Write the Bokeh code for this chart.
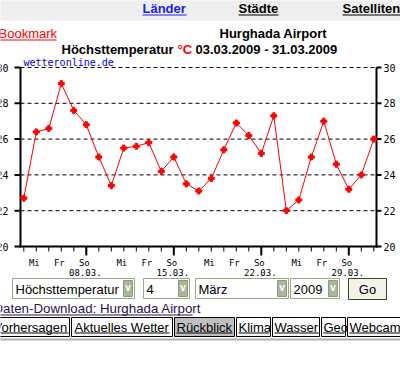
from bokeh.plotting import figure
from bokeh.models import Range1d, Label, BoxAnnotation
from bokeh.core.properties import value
from bokeh.embed import file_html
from bokeh.resources import INLINE

# ---------------- data ----------------
days = list(range(3, 32))  # 03.03. .. 31.03.2009
tmax = [22.7, 26.4, 26.6, 29.1, 27.6, 26.8, 25.0, 23.4, 25.5, 25.6,
        25.8, 24.2, 25.0, 23.5, 23.1, 23.8, 25.4, 26.9, 26.2, 25.2,
        27.3, 22.0, 22.6, 25.0, 27.0, 24.6, 23.2, 24.0, 26.0]
y_ticks = [20, 22, 24, 26, 28, 30]
grid_ticks = [22, 24, 26, 28, 30]
weekday_days = [4, 6, 8, 11, 13, 15, 18, 20, 22, 25, 27, 29]
weekday_labels = ["Mi", "Fr", "So"] * 4
sunday_days = [8, 15, 22, 29]
sunday_labels = ["08.03.", "15.03.", "22.03.", "29.03."]

title_station = "Hurghada Airport"
title_param = "Höchsttemperatur"
title_unit = "°C"
title_period = "03.03.2009 - 31.03.2009"

# ---------------- layout ----------------
W, H = 400, 380
FL, FR, FT, FB = 20, 376, 67, 246      # chart area on the page (px)
X0, X1 = 2.736, 31.216                  # day range shown in the chart area
Y0, Y1 = 20, 30                         # temperature range
PXD = (FR - FL) / (X1 - X0)             # px per day
PYD = (FB - FT) / (Y1 - Y0)             # px per degree
SANS = "Liberation Sans"
MONO = "DejaVu Sans Mono"

p = figure(width=W, height=H, output_backend="svg", toolbar_location=None,
           x_range=Range1d(X0 - FL / PXD, X1 + (W - FR) / PXD),
           y_range=Range1d(Y0 - (H - FB) / PYD, Y1 + FT / PYD),
           x_axis_location=None, y_axis_location=None,
           min_border=0, min_border_left=0, min_border_right=0,
           min_border_top=0, min_border_bottom=0)
p.outline_line_color = None
p.background_fill_color = "white"
p.border_fill_color = "white"
for g in p.grid:
    g.visible = False


def dx(px):
    return px / PXD


def dy(px):
    return px / PYD


# grid (dashed)
p.segment(x0=[X0] * len(grid_ticks), x1=[X1] * len(grid_ticks), y0=grid_ticks,
          y1=grid_ticks, line_color="black", line_width=1, line_dash="4 3")

# axes lines
p.segment(x0=[X0, X1, X0 - dx(1)], x1=[X0, X1, X1 + dx(1)],
          y0=[Y0 - dy(1), Y0 - dy(1), Y0], y1=[Y1, Y1, Y0],
          line_color="black", line_width=2)
# y ticks left / right
n = len(y_ticks)
p.segment(x0=[X0] * n, x1=[X0 - dx(6)] * n, y0=y_ticks, y1=y_ticks,
          line_color="black", line_width=2)
p.segment(x0=[X1] * n, x1=[X1 + dx(5)] * n, y0=y_ticks, y1=y_ticks,
          line_color="black", line_width=2)
# x ticks
p.segment(x0=days, x1=days, y0=[Y0] * len(days), y1=[Y0 - dy(5)] * len(days),
          line_color="black", line_width=1)
p.segment(x0=sunday_days, x1=sunday_days, y0=[Y0] * 4, y1=[Y0 - dy(9)] * 4,
          line_color="black", line_width=2)

# tick labels
p.text(x=[X1 + dx(7)] * n, y=y_ticks, text=[str(t) for t in y_ticks],
       text_font=value(MONO), text_font_size="10px", text_color="black",
       text_align="left", text_baseline="middle")
p.text(x=[X0 - dx(12)] * n, y=y_ticks, text=[str(t) for t in y_ticks],
       text_font=value(MONO), text_font_size="10px", text_color="black",
       text_align="right", text_baseline="middle")
p.text(x=weekday_days, y=[Y0 - dy(16)] * len(weekday_days), text=weekday_labels,
       x_offset=-2, text_font=value(MONO), text_font_size="9px",
       text_color="black", text_align="center", text_baseline="middle")
p.text(x=sunday_days, y=[Y0 - dy(26)] * 4, text=sunday_labels,
       x_offset=-1, text_font=value(MONO), text_font_size="9px",
       text_color="black", text_align="center", text_baseline="middle")

# data
p.line(days, tmax, line_color="red", line_width=1)
p.scatter(days, tmax, marker="plus", size=6, fill_color="red", line_color="red")


# ---------- page elements (top-left page pixels -> screen units) ----------
TXT_SHIFT = 4   # Label baseline correction (px)


def sx(x):
    return x


def sy(y):
    return H - y


def txt(x, y, text, size="13px", color="black", style="normal", font=SANS,
        align="left", baseline="alphabetic"):
    shift = TXT_SHIFT if baseline == "alphabetic" else 0
    p.add_layout(Label(x=sx(x), y=sy(y) + shift, x_units="screen", y_units="screen",
                       text=text, text_font=font, text_font_size=size,
                       text_color=color, text_font_style=style,
                       text_align=align, text_baseline=baseline))


def box(x0, y0, x1, y1, fill="white", line=None, lw=1):
    p.add_layout(BoxAnnotation(left=sx(x0), right=sx(x1), top=sy(y0), bottom=sy(y1),
                               left_units="screen", right_units="screen",
                               top_units="screen", bottom_units="screen",
                               fill_color=fill, fill_alpha=1 if fill else 0,
                               line_color=line, line_width=lw, line_alpha=1))


def uline(x0, x1, y, color="black"):
    box(x0, y, x1, y + 1, fill=color)


# top navigation bar
box(-5, -5, 405, 20, fill="#eeeeee")
txt(142, 12, "Länder", color="#2020ee", style="bold")
uline(142, 186, 14, "#2020ee")
txt(238, 12, "Städte", style="bold")
uline(238, 278, 14)
txt(342, 12, "Satelliten", style="bold")
uline(342, 405, 14)

# header
txt(-2, 37, "Bookmark", color="red")
uline(-2, 56, 39, "red")
txt(219, 37, title_station, style="bold")
txt(61, 53, title_param, style="bold")
txt(177, 53, title_unit, style="bold", color="red")
txt(195, 53, title_period, style="bold")

# source tag
txt(23, 62, "wetteronline.de", size="10px", color="blue", font=MONO, baseline="middle")

# form controls
BORDER = "#9aa986"
ARROW = "#a9b69b"
selects = [(12, 134, "Höchsttemperatur"), (143, 189, "4"),
           (195, 288, "März"), (290, 339, "2009")]
for x0, x1, t in selects:
    box(x0, 278, x1, 298, fill="white", line=BORDER)
    box(x1 - 11, 280, x1 - 2, 296, fill=ARROW, line="#8c9a7c")
    txt(x1 - 6.5, 291, "v", size="10px", color="white", style="bold", align="center")
    txt(x0 + 3, 293, t)
box(348, 278, 386, 299, fill="#f4f3ea", line="#2e4d24")
txt(367, 293, "Go", align="center")

LINK = "#2a1058"
txt(-7, 312, "Daten-Download: Hurghada Airport", size="13.3px", color=LINK)
uline(-7, 192, 314, LINK)

# tabs
tabs = [(-3, 69, "Vorhersagen", "white", -7, 68),
        (71, 172, "Aktuelles Wetter", "white", 74, 169),
        (174, 234, "Rückblick", "#c0c0c0", 176, 232),
        (236, 270, "Klima", "white", 238, 269),
        (272, 319, "Wasser", "white", 274, 318),
        (321, 345, "Geo", "white", 323, 344),
        (347, 405, "Webcam", "white", 349, 405)]
for x0, x1, t, f, ts, ue in tabs:
    box(x0, 317, x1, 336, fill=f, line="black")
    txt(ts, 331, t)
    uline(max(ts, x0 + 1), ue, 332)
box(-5, 338, 405, 340, fill="#b0b0b0")

open("out.html", "w").write(file_html(p, INLINE))
